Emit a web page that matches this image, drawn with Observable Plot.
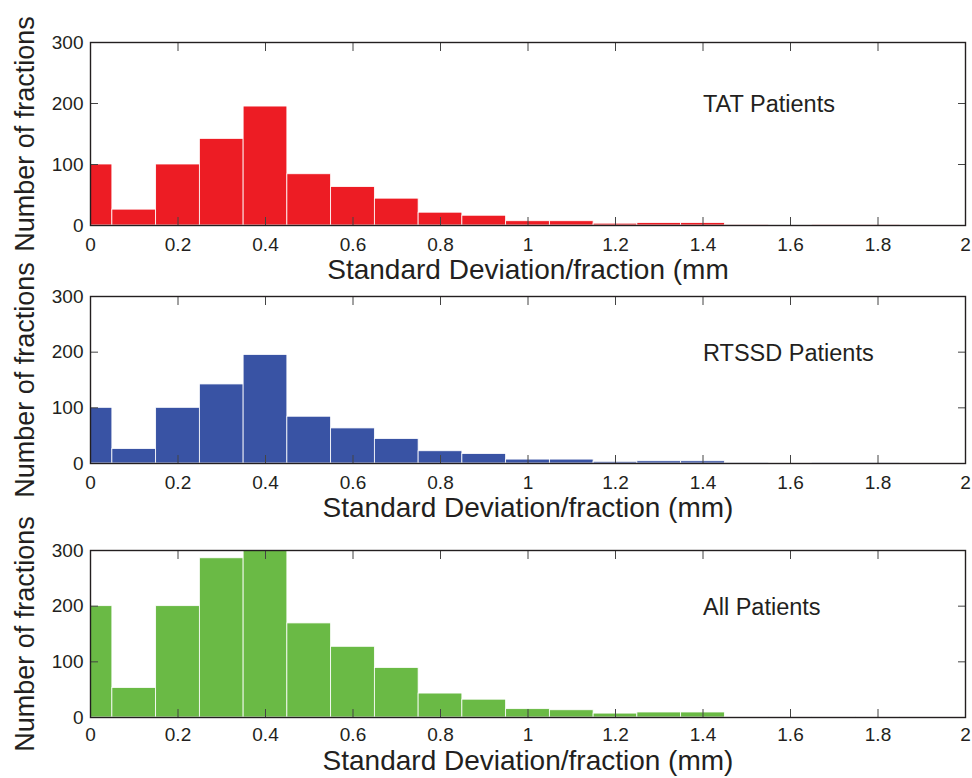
<!DOCTYPE html>
<html><head><meta charset="utf-8">
<script src="https://cdn.jsdelivr.net/npm/d3@7"></script>
<script src="https://cdn.jsdelivr.net/npm/@observablehq/plot@0.6"></script>
<style>
body{margin:0;background:#fff;}
#chart{position:relative;width:972px;height:778px;font-family:"Liberation Sans",Arial,Helvetica,sans-serif;}
#chart svg{position:absolute;left:0;top:0;overflow:visible;}
</style></head><body><div id="chart"></div>
<script>
// ---- data ----
const binCenters = [0, 0.1, 0.2, 0.3, 0.4, 0.5, 0.6, 0.7, 0.8, 0.9, 1.0, 1.1, 1.2, 1.3, 1.4, 1.5, 1.6, 1.7, 1.8, 1.9];
const tatCounts   = [100, 26, 100, 142, 195, 84, 63, 44, 21, 16, 7, 7, 3, 4, 4, 0.5, 0, 0.5, 0.5, 0];
const rtssdCounts = [100, 26, 100, 142, 195, 84, 63, 44, 22, 17, 7, 7, 3, 4, 4, 0.5, 0, 0.5, 0.5, 0];
const allCounts   = [200, 53, 200, 286, 300, 169, 127, 89, 43, 32, 15, 13, 7, 9, 9, 1, 0, 1, 1, 0];
const xTicks = [0, 0.2, 0.4, 0.6, 0.8, 1, 1.2, 1.4, 1.6, 1.8, 2];
const yTicks = [0, 100, 200, 300];
const panelNames = ["TAT Patients", "RTSSD Patients", "All Patients"];
const xLabels = ["Standard Deviation/fraction (mm", "Standard Deviation/fraction (mm)", "Standard Deviation/fraction (mm)"];
const yLabel = "Number of fractions";

// ---- layout / style ----
const ink = "#231f20";
const panels = [
  {counts: tatCounts,   name: panelNames[0], xLabel: xLabels[0], fill: "#ed1c24", top: 42,  bottom: 225, xLabelDy: 45, tickPad: 12},
  {counts: rtssdCounts, name: panelNames[1], xLabel: xLabels[1], fill: "#3953a4", top: 296, bottom: 463, xLabelDy: 45, tickPad: 12},
  {counts: allCounts,   name: panelNames[2], xLabel: xLabels[2], fill: "#6aba45", top: 550, bottom: 717, xLabelDy: 44, tickPad: 10}
];
const W = 972, H = 778;
const container = document.getElementById("chart");

for (const p of panels) {
  const bars = binCenters.map((c, i) => ({x1: c - 0.05, x2: c + 0.05, count: p.counts[i]}));
  const svg = Plot.plot({
    width: W, height: H,
    marginLeft: 90, marginRight: 7, marginTop: p.top, marginBottom: H - p.bottom,
    style: {background: "transparent", color: ink, fontFamily: '"Liberation Sans", Arial, Helvetica, sans-serif', overflow: "visible"},
    x: {domain: [0, 2]},
    y: {domain: [0, 300]},
    marks: [
      Plot.rectY(bars, {x1: "x1", x2: "x2", y: "count", fill: p.fill, stroke: "white", strokeWidth: 0.8, clip: true}),
      Plot.axisX({ticks: xTicks, tickSize: -8, fill: "none", label: null, stroke: "#444"}),
      Plot.axisX({anchor: "top", ticks: xTicks, tickSize: -8, fill: "none", label: null, stroke: "#444"}),
      Plot.axisX({ticks: xTicks, tickSize: 0, tickPadding: p.tickPad, tickFormat: d => String(d), label: null, fontSize: 19, fill: ink}),
      Plot.axisY({ticks: yTicks, tickSize: -8, fill: "none", label: null, stroke: "#444"}),
      Plot.axisY({anchor: "right", ticks: yTicks, tickSize: -8, fill: "none", label: null, stroke: "#444"}),
      Plot.axisY({ticks: yTicks, tickSize: 0, tickPadding: 7, tickFormat: d => String(d), label: null, fontSize: 19, fill: ink}),
      Plot.text([p.name], {text: d => d, x: 1.4, y: 198, textAnchor: "start", lineAnchor: "middle", fontSize: 23.5, fill: ink}),
      Plot.text([p.xLabel], {text: d => d, frameAnchor: "bottom", dy: p.xLabelDy, textAnchor: "middle", lineAnchor: "middle", fontSize: 28, fill: ink}),
      Plot.text([yLabel], {text: d => d, frameAnchor: "left", dx: -65, rotate: -90, textAnchor: "middle", lineAnchor: "middle", fontSize: 27, fill: ink}),
      Plot.frame({stroke: ink, strokeWidth: 1.4})
    ]
  });
  container.appendChild(svg);
}
</script></body></html>
